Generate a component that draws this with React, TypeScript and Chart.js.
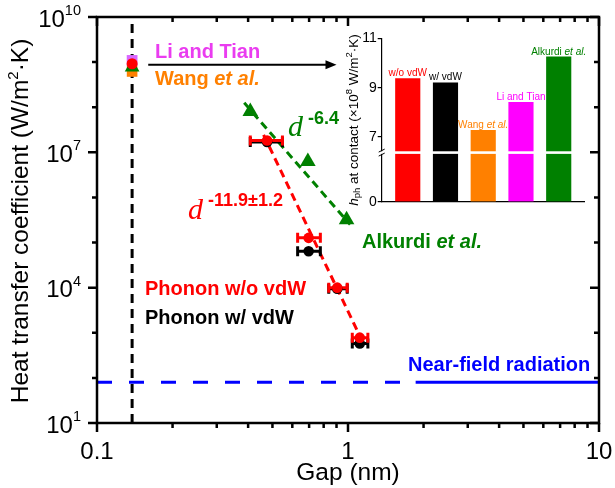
import React, { useEffect, useRef } from 'react';
import { Chart, registerables } from 'chart.js';
Chart.register(...registerables);

const SANS = "'Liberation Sans', Arial, sans-serif";
const SERIF = "'Liberation Serif', 'Times New Roman', serif";
const RED = '#ff0000';
const BLACK = '#000000';
const GREEN = '#008000';
const ORANGE = '#ff8000';
const MAGENTA = '#ff00ff';
const MAGENTA_TXT = '#ea3cf0';
const BLUE = '#0000ff';

// ---- main plot data ----
const gapNm = [0.476, 0.697, 0.906, 1.114];
const gapErrLow = [0.408, 0.63, 0.838, 1.04];
const gapErrHigh = [0.548, 0.776, 0.993, 1.2];
const hWithoutVdW = [1.83e7, 1.27e5, 1.0e4, 7.8e2];
const hWithVdW = [1.7e7, 6.4e4, 9.5e3, 5.8e2];
const alkurdiGap = [0.408, 0.692, 0.987];
const alkurdiH = [8.0e7, 6.3e6, 3.2e5];
const fitRedGap = [0.461, 1.14];
const fitRedH = [2.45e7, 6.5e2];
const fitGreenGap = [0.386, 1.02];
const fitGreenH = [1.25e8, 2.5e5];
const contactGap = [0.138, 0.138];
const contactLineH = [1e1, 1e10];
// contact markers in main plot: w/o vdW, w/ vdW, Wang, Li&Tian, Alkurdi
const contactMainH = [9.2e8, 9.0e8, 6.2e8, 1.09e9, 7.7e8];
const radiationDashedGap = [0.1, 1.86];
const radiationSolidGap = [1.86, 10];
const radiationH = [80, 80];
const arrowGap = [0.16, 0.9];
const arrowH = 8.7e8;
const xTickValues = [0.1, 1, 10];
const xTickLabels = ['0.1', '1', '10'];
const yTickExponents = [1, 4, 7, 10];

// ---- inset data ----
const insetLabels = ['w/o vdW', 'w/ vdW', 'Wang', 'Li and Tian', 'Alkurdi'];
const insetValues = [9.37, 9.2, 7.27, 8.41, 10.25]; // x10^8 W/m^2K
const insetColors = [RED, BLACK, ORANGE, MAGENTA, GREEN];
const insetTickValues = [7, 9, 11];
const insetAxisZero = 4.38; // axis position where "0" is shown (broken axis)
const insetBreak = 6.37;

type Part = { text: string; font: string; color: string; dy?: number };

function richWidth(ctx: CanvasRenderingContext2D, parts: Part[]) {
  let w = 0;
  for (const p of parts) {
    ctx.font = p.font;
    w += ctx.measureText(p.text).width;
  }
  return w;
}

function drawRich(ctx: CanvasRenderingContext2D, x: number, y: number, parts: Part[], align = 'left') {
  const w = richWidth(ctx, parts);
  let cx = align === 'left' ? x : align === 'center' ? x - w / 2 : x - w;
  ctx.save();
  ctx.textBaseline = 'middle';
  ctx.textAlign = 'left';
  for (const p of parts) {
    ctx.font = p.font;
    ctx.fillStyle = p.color;
    ctx.fillText(p.text, cx, y + (p.dy || 0));
    cx += ctx.measureText(p.text).width;
  }
  ctx.restore();
}

const pts = (xs: number[], ys: number[]) => xs.map((x, i) => ({ x, y: ys[i] }));

function drawErrorBars(chart: any, ys: number[], color: string) {
  const ctx = chart.ctx;
  const xs = chart.scales.x;
  const yS = chart.scales.y;
  ctx.save();
  ctx.strokeStyle = color;
  ctx.lineWidth = 3;
  for (let i = 0; i < gapNm.length; i++) {
    const y = yS.getPixelForValue(ys[i]);
    const x1 = xs.getPixelForValue(gapErrLow[i]);
    const x2 = xs.getPixelForValue(gapErrHigh[i]);
    ctx.beginPath();
    ctx.moveTo(x1, y);
    ctx.lineTo(x2, y);
    ctx.moveTo(x1, y - 5);
    ctx.lineTo(x1, y + 5);
    ctx.moveTo(x2, y - 5);
    ctx.lineTo(x2, y + 5);
    ctx.stroke();
  }
  ctx.restore();
}

const mainPlugin = {
  id: 'mainDecor',
  beforeDatasetDraw(chart: any, args: any) {
    if (args.index === 1) {
      drawErrorBars(chart, hWithVdW, BLACK);
      drawErrorBars(chart, hWithoutVdW, RED);
    }
  },
  afterDraw(chart: any) {
    const ctx: CanvasRenderingContext2D = chart.ctx;
    const { left, right, top, bottom } = chart.chartArea;
    const xs = chart.scales.x;
    const ys = chart.scales.y;
    ctx.save();
    ctx.strokeStyle = BLACK;
    ctx.lineWidth = 2.5;
    ctx.strokeRect(left, top, right - left, bottom - top);
    // ticks
    ctx.beginPath();
    for (const d of [-1, 0, 1]) {
      for (let m = 1; m <= 9; m++) {
        const v = m * Math.pow(10, d);
        if (v > 10.0001) continue;
        const px = xs.getPixelForValue(v);
        const len = m === 1 ? 9 : 5;
        ctx.moveTo(px, bottom);
        ctx.lineTo(px, bottom + len);
        ctx.moveTo(px, top);
        ctx.lineTo(px, top + len);
      }
    }
    for (let e = 1; e <= 10; e++) {
      const py = ys.getPixelForValue(Math.pow(10, e));
      const len = (e - 1) % 3 === 0 ? 9 : 5;
      ctx.moveTo(left, py);
      ctx.lineTo(left - len, py);
      ctx.moveTo(right, py);
      ctx.lineTo(right - len, py);
    }
    ctx.stroke();

    // x tick labels
    ctx.fillStyle = BLACK;
    ctx.textAlign = 'center';
    ctx.textBaseline = 'middle';
    ctx.font = `24px ${SANS}`;
    xTickValues.forEach((v, i) => ctx.fillText(xTickLabels[i], xs.getPixelForValue(v), 452));
    // y tick labels
    yTickExponents.forEach((e) => {
      const py = ys.getPixelForValue(Math.pow(10, e));
      ctx.textAlign = 'right';
      ctx.font = `14.5px ${SANS}`;
      const sw = ctx.measureText(String(e)).width;
      ctx.fillText(String(e), 81, py - 6);
      ctx.font = `24px ${SANS}`;
      ctx.fillText('10', 81 - sw, py + 3);
    });
    // axis titles
    ctx.textAlign = 'center';
    ctx.font = `24.5px ${SANS}`;
    ctx.fillText('Gap (nm)', xs.getPixelForValue(1), 473);
    ctx.save();
    ctx.translate(21, 221);
    ctx.rotate(-Math.PI / 2);
    drawRich(ctx, 0, 0, [
      { text: 'Heat transfer coefficient (W/m', font: `24.5px ${SANS}`, color: BLACK },
      { text: '2', font: `15px ${SANS}`, color: BLACK, dy: -7 },
      { text: '·K)', font: `24.5px ${SANS}`, color: BLACK },
    ], 'center');
    ctx.restore();

    // arrow
    const ay = ys.getPixelForValue(arrowH);
    const ax1 = xs.getPixelForValue(arrowGap[0]);
    const ax2 = xs.getPixelForValue(arrowGap[1]);
    ctx.strokeStyle = BLACK;
    ctx.lineWidth = 2;
    ctx.beginPath();
    ctx.moveTo(ax1, ay);
    ctx.lineTo(ax2 - 8, ay);
    ctx.stroke();
    ctx.fillStyle = BLACK;
    ctx.beginPath();
    ctx.moveTo(ax2, ay);
    ctx.lineTo(ax2 - 11, ay - 4.5);
    ctx.lineTo(ax2 - 11, ay + 4.5);
    ctx.closePath();
    ctx.fill();

    // annotations
    const B20 = `bold 20px ${SANS}`;
    const BI20 = `italic bold 20px ${SANS}`;
    drawRich(ctx, 155, 52, [{ text: 'Li and Tian', font: B20, color: MAGENTA_TXT }]);
    drawRich(ctx, 155, 79, [
      { text: 'Wang ', font: B20, color: ORANGE },
      { text: 'et al.', font: BI20, color: ORANGE },
    ]);
    drawRich(ctx, 288, 128, [
      { text: 'd', font: `italic 30px ${SERIF}`, color: GREEN },
      { text: ' -6.4', font: `bold 18px ${SANS}`, color: GREEN, dy: -9 },
    ]);
    drawRich(ctx, 188, 211, [
      { text: 'd', font: `italic 30px ${SERIF}`, color: RED },
      { text: ' -11.9±1.2', font: `bold 18px ${SANS}`, color: RED, dy: -10 },
    ]);
    drawRich(ctx, 362, 242, [
      { text: 'Alkurdi ', font: B20, color: GREEN },
      { text: 'et al.', font: BI20, color: GREEN },
    ]);
    drawRich(ctx, 145, 289, [{ text: 'Phonon w/o vdW', font: B20, color: RED }]);
    drawRich(ctx, 145, 318, [{ text: 'Phonon w/ vdW', font: B20, color: BLACK }]);
    drawRich(ctx, 408, 365, [{ text: 'Near-field radiation', font: B20, color: BLUE }]);
    ctx.restore();
  },
};

const insetPlugin = {
  id: 'insetDecor',
  afterDraw(chart: any) {
    const ctx: CanvasRenderingContext2D = chart.ctx;
    const { left, right } = chart.chartArea;
    const yS = chart.scales.y;
    ctx.save();
    // axis break
    const yb = yS.getPixelForValue(insetBreak);
    ctx.fillStyle = '#ffffff';
    ctx.fillRect(left - 5, yb - 1.3, right - left + 5, 2.6);
    ctx.strokeStyle = BLACK;
    ctx.lineWidth = 1;
    ctx.beginPath();
    ctx.moveTo(left - 3, yb - 0.5);
    ctx.lineTo(left + 3, yb - 3.5);
    ctx.moveTo(left - 3, yb + 3.5);
    ctx.lineTo(left + 3, yb + 0.5);
    ctx.stroke();
    // bar labels
    const meta = chart.getDatasetMeta(0);
    const F = `10px ${SANS}`;
    const FI = `italic 10px ${SANS}`;
    const labelParts: Part[][] = [
      [{ text: 'w/o vdW', font: F, color: RED }],
      [{ text: 'w/ vdW', font: F, color: BLACK }],
      [{ text: 'Wang ', font: F, color: ORANGE }, { text: 'et al.', font: FI, color: ORANGE }],
      [{ text: 'Li and Tian', font: F, color: MAGENTA }],
      [{ text: 'Alkurdi ', font: F, color: GREEN }, { text: 'et al.', font: FI, color: GREEN }],
    ];
    meta.data.forEach((el: any, i: number) => {
      drawRich(ctx, el.x, el.y - 5, labelParts[i], 'center');
    });
    // y title
    ctx.translate(24, 100);
    ctx.rotate(-Math.PI / 2);
    const R = `13.5px ${SANS}`;
    const S = `9.5px ${SANS}`;
    drawRich(ctx, 0, 0, [
      { text: 'h', font: `italic 13.5px ${SANS}`, color: BLACK },
      { text: 'ph', font: S, color: BLACK, dy: 3.5 },
      { text: ' at contact (×10', font: R, color: BLACK },
      { text: '8', font: S, color: BLACK, dy: -5 },
      { text: ' W/m', font: R, color: BLACK },
      { text: '2', font: S, color: BLACK, dy: -5 },
      { text: '·K)', font: R, color: BLACK },
    ], 'center');
    ctx.restore();
  },
};

export default function App() {
  const mainRef = useRef<HTMLCanvasElement>(null);
  const insetRef = useRef<HTMLCanvasElement>(null);

  useEffect(() => {
    const lineDs = (xs: number[], ys: number[], color: string, dash: number[], width: number, order: number) => ({
      data: pts(xs, ys),
      showLine: true,
      borderColor: color,
      borderWidth: width,
      borderDash: dash,
      pointRadius: 0,
      fill: false,
      order,
    });
    const markerDs = (xs: number[], ys: number[], color: string, style: string, r: number, order: number) => ({
      data: pts(xs, ys),
      showLine: false,
      pointStyle: style,
      pointRadius: r,
      pointBackgroundColor: color,
      pointBorderColor: color,
      pointBorderWidth: 0,
      order,
    });
    const main = new Chart(mainRef.current!, {
      type: 'scatter',
      data: {
        datasets: [
          markerDs(gapNm, hWithoutVdW, RED, 'circle', 5.3, 1),
          markerDs(gapNm, hWithVdW, BLACK, 'circle', 5.3, 2),
          markerDs(alkurdiGap, alkurdiH, GREEN, 'triangle', 9, 3),
          markerDs([contactGap[0]], [contactMainH[0]], RED, 'circle', 5.5, 0.5),
          markerDs([contactGap[0]], [contactMainH[3]], '#d966ff', 'rect', 7.6, 0.6),
          markerDs([contactGap[0]], [contactMainH[4]], GREEN, 'triangle', 8.5, 0.7),
          markerDs([contactGap[0]], [contactMainH[2]], ORANGE, 'rect', 7.5, 0.8),
          markerDs([contactGap[0]], [contactMainH[1]], BLACK, 'circle', 5, 0.9),
          lineDs(fitRedGap, fitRedH, RED, [8, 5], 3, 6),
          lineDs(fitGreenGap, fitGreenH, GREEN, [8, 5], 3, 7),
          lineDs(contactGap, contactLineH, BLACK, [9, 6], 3, 8),
          lineDs(radiationDashedGap, radiationH, BLUE, [15, 17], 3, 9),
          lineDs(radiationSolidGap, radiationH, BLUE, [], 3, 9),
        ] as any,
      },
      options: {
        responsive: false,
        animation: false,
        layout: { padding: { top: 17, right: 16, left: 0, bottom: 0 } },
        plugins: { legend: { display: false }, tooltip: { enabled: false } },
        scales: {
          x: {
            type: 'logarithmic',
            min: 0.1,
            max: 10,
            ticks: { display: false },
            grid: { display: false },
            border: { display: false },
            afterFit: (s: any) => { s.height = 65; },
          },
          y: {
            type: 'logarithmic',
            min: 10,
            max: 1e10,
            ticks: { display: false },
            grid: { display: false },
            border: { display: false },
            afterFit: (s: any) => { s.width = 97; },
          },
        },
      } as any,
      plugins: [mainPlugin],
    });

    const inset = new Chart(insetRef.current!, {
      type: 'bar',
      data: {
        labels: insetLabels,
        datasets: [
          {
            data: insetValues.map((v, i) => ({ x: i + 1, y: v })),
            backgroundColor: insetColors,
            borderWidth: 0,
            barThickness: 24.5,
            base: insetAxisZero,
          } as any,
        ],
      },
      options: {
        responsive: false,
        animation: false,
        layout: { padding: { top: 18.3, right: 16, left: 0, bottom: 0 } },
        plugins: { legend: { display: false }, tooltip: { enabled: false } },
        scales: {
          x: {
            type: 'linear',
            min: 0.31,
            max: 5.67,
            offset: false,
            ticks: { display: false },
            grid: { display: false },
            border: { display: true, color: BLACK, width: 1.2 },
            afterFit: (s: any) => { s.height = 13.3; },
          },
          y: {
            type: 'linear',
            min: insetAxisZero,
            max: 11,
            beginAtZero: false,
            afterBuildTicks: (s: any) => {
              s.ticks = [insetAxisZero, ...insetTickValues].map((v) => ({ value: v }));
            },
            ticks: {
              color: BLACK,
              font: { family: SANS, size: 14 },
              padding: 1,
              callback: (v: any) => (v === insetAxisZero ? '0' : String(v)),
            },
            grid: { display: true, drawOnChartArea: false, drawTicks: true, tickLength: 4, color: BLACK, lineWidth: 1.2 },
            border: { display: true, color: BLACK, width: 1.2 },
            afterFit: (s: any) => { s.width = 51.7; },
          },
        },
      } as any,
      plugins: [insetPlugin],
    });

    return () => {
      main.destroy();
      inset.destroy();
    };
  }, []);

  return (
    <div style={{ position: 'absolute', left: 0, top: 0, width: 615, height: 488, background: '#fff' }}>
      <canvas ref={mainRef} width={615} height={488} style={{ position: 'absolute', left: 0, top: 0 }} />
      <canvas ref={insetRef} width={270} height={195} style={{ position: 'absolute', left: 330, top: 20 }} />
    </div>
  );
}
